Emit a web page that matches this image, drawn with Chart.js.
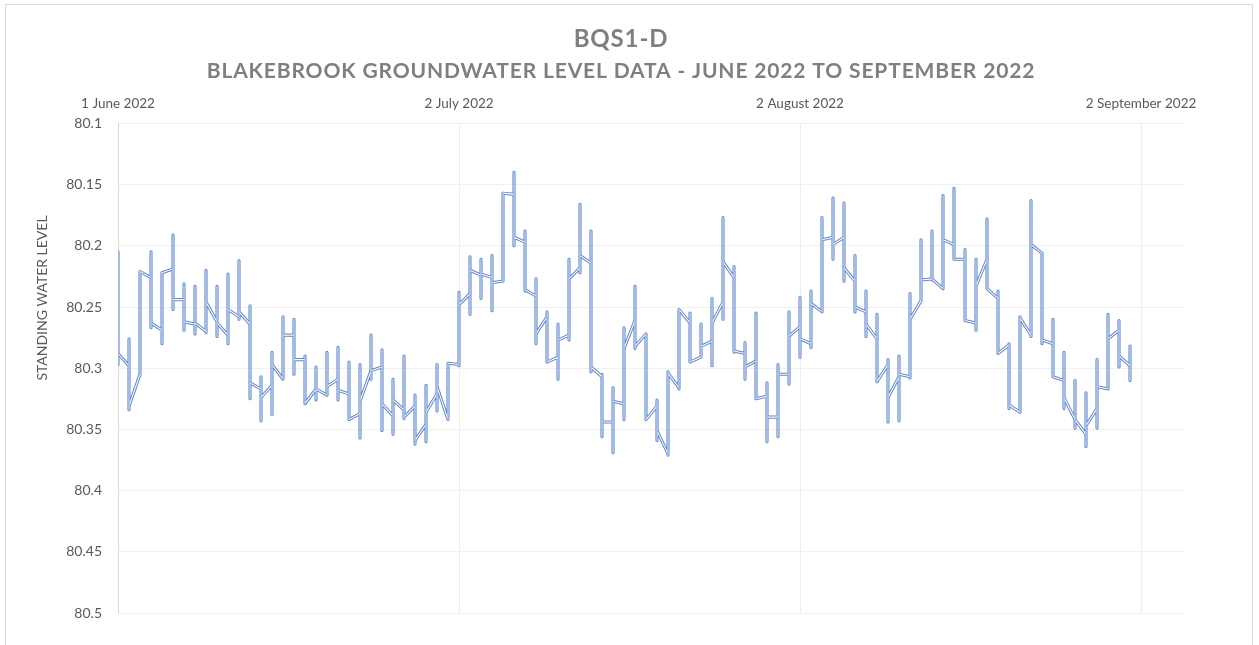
<!DOCTYPE html>
<html><head><meta charset="utf-8">
<script src="https://cdn.jsdelivr.net/npm/chart.js@4.4.0/dist/chart.umd.min.js"></script>
<style>
html,body{margin:0;padding:0;background:#fff;}
#wrap{position:relative;width:1259px;height:645px;overflow:hidden;}
#frame{position:absolute;left:5px;top:4px;width:1246px;height:660px;border:1px solid #d9d9d9;pointer-events:none;}
</style></head><body>
<div id="wrap"><canvas id="c" width="1259" height="645"></canvas><div id="frame"></div></div>
<script>
// x ticks (days after 1 June 2022)
const tickDays = [0, 31, 62, 93];
const tickLabels = ['1 June 2022', '2 July 2022', '2 August 2022', '2 September 2022'];
const yAxisTitle = 'STANDING WATER LEVEL';

// one entry per day, 1 June 2022 .. 1 September 2022
const openLevel = [80.205,80.298,80.305,80.226,80.269,80.219,80.244,80.264,80.270,80.262,
80.273,80.258,80.264,80.317,80.314,80.309,80.273,80.293,80.317,80.322,
80.309,80.321,80.337,80.302,80.299,80.339,80.334,80.331,80.346,80.321,
80.342,80.297,80.239,80.224,80.226,80.229,80.158,80.197,80.241,80.258,
80.291,80.273,80.218,80.214,80.307,80.344,80.329,80.261,80.272,80.331,
80.370,80.316,80.263,80.291,80.278,80.246,80.226,80.288,80.294,80.323,
80.340,80.305,80.266,80.280,80.254,80.193,80.193,80.229,80.254,80.276,
80.297,80.307,80.307,80.245,80.227,80.235,80.199,80.211,80.263,80.211,
80.243,80.281,80.336,80.273,80.206,80.280,80.310,80.342,80.354,80.333,
80.317,80.269,80.298];
const minLevel = [80.205,80.276,80.221,80.205,80.222,80.191,80.231,80.233,80.220,80.233,
80.223,80.212,80.249,80.307,80.287,80.258,80.260,80.290,80.299,80.287,
80.283,80.295,80.297,80.273,80.285,80.309,80.290,80.322,80.314,80.297,
80.296,80.238,80.209,80.211,80.208,80.157,80.140,80.188,80.227,80.254,
80.264,80.211,80.166,80.188,80.305,80.316,80.267,80.233,80.272,80.326,
80.303,80.252,80.255,80.264,80.243,80.177,80.217,80.279,80.255,80.312,
80.297,80.254,80.242,80.237,80.177,80.161,80.165,80.208,80.237,80.256,
80.293,80.290,80.239,80.195,80.188,80.159,80.153,80.203,80.211,80.178,
80.237,80.280,80.258,80.163,80.206,80.260,80.287,80.310,80.320,80.293,
80.256,80.261,80.282];
const maxLevel = [80.297,80.334,80.306,80.267,80.280,80.252,80.269,80.272,80.271,80.274,
80.280,80.260,80.325,80.343,80.338,80.309,80.305,80.329,80.326,80.322,
80.326,80.342,80.357,80.309,80.351,80.354,80.341,80.362,80.360,80.335,
80.342,80.298,80.256,80.243,80.253,80.229,80.200,80.237,80.280,80.295,
80.309,80.277,80.222,80.303,80.356,80.369,80.342,80.284,80.342,80.359,
80.371,80.317,80.295,80.291,80.298,80.260,80.287,80.309,80.325,80.360,
80.356,80.313,80.291,80.283,80.254,80.211,80.229,80.254,80.274,80.311,
80.344,80.343,80.308,80.245,80.228,80.235,80.211,80.261,80.269,80.235,
80.288,80.333,80.336,80.274,80.280,80.307,80.333,80.349,80.364,80.349,
80.317,80.299,80.310];
const closeLevel = [80.288,80.331,80.221,80.263,80.222,80.244,80.262,80.263,80.246,80.263,
80.252,80.254,80.312,80.324,80.297,80.273,80.293,80.329,80.317,80.315,
80.318,80.342,80.327,80.302,80.329,80.326,80.340,80.359,80.336,80.315,
80.296,80.248,80.220,80.223,80.230,80.157,80.193,80.236,80.272,80.295,
80.277,80.227,80.208,80.299,80.344,80.327,80.284,80.282,80.342,80.351,
80.304,80.252,80.295,80.282,80.263,80.213,80.286,80.299,80.325,80.340,
80.305,80.274,80.276,80.247,80.195,80.199,80.218,80.250,80.264,80.311,
80.324,80.305,80.260,80.228,80.227,80.195,80.211,80.261,80.233,80.235,
80.288,80.330,80.259,80.199,80.277,80.307,80.324,80.342,80.347,80.315,
80.276,80.290,80.298];

const pathPts = [];
const rangePts = [];
for (let i = 0; i < openLevel.length; i++) {
  pathPts.push({x:i, y:openLevel[i]}, {x:i, y:minLevel[i]}, {x:i, y:maxLevel[i]}, {x:i, y:closeLevel[i]});
  rangePts.push({x:i, y:minLevel[i]}, {x:i, y:maxLevel[i]}, {x:i, y:null});
}

const FONT = 'Lato, "Open Sans", sans-serif';

const spacingPlugin = {
  id: 'spacing',
  beforeDraw(chart) { chart.ctx.letterSpacing = '0.85px'; },
  beforeDatasetsDraw(chart) { chart.ctx.letterSpacing = '0px'; },
  afterDraw(chart) {
    const ctx = chart.ctx;
    ctx.save();
    ctx.letterSpacing = '0px';
    ctx.translate(42, 298);
    ctx.rotate(-Math.PI / 2);
    ctx.font = '14px ' + FONT;
    ctx.fillStyle = '#595959';
    ctx.textAlign = 'center';
    ctx.textBaseline = 'middle';
    ctx.fillText(yAxisTitle, 0, 0);
    ctx.restore();
  }
};

new Chart(document.getElementById('c'), {
  type: 'line',
  data: { datasets: [
    { data: rangePts, borderColor: '#9CB4E2', borderWidth: 1.4, pointRadius: 0, spanGaps: false, order: 0, borderCapStyle: 'butt' },
    { data: pathPts, borderColor: '#ffffff', borderWidth: 1.1, pointRadius: 0, order: 1, borderJoinStyle: 'round' },
    { data: pathPts, borderColor: 'rgba(68,114,196,0.85)', borderWidth: 3.1, pointRadius: 0, order: 2, borderJoinStyle: 'round' }
  ]},
  plugins: [spacingPlugin],
  options: {
    responsive: false, animation: false, devicePixelRatio: 1,
    events: [],
    layout: { padding: { left: 0, right: 17, top: 0, bottom: 32 } },
    plugins: {
      legend: { display: false }, tooltip: { enabled: false },
      title: { display: true, text: 'BQS1-D', color: '#7f7f7f',
        font: { family: FONT, size: 24, weight: 'bold' }, padding: { top: 25, bottom: 4 } },
      subtitle: { display: true, text: 'BLAKEBROOK GROUNDWATER LEVEL DATA - JUNE 2022 TO SEPTEMBER 2022', color: '#7f7f7f',
        font: { family: FONT, size: 21, weight: 'bold' }, padding: { top: 1, bottom: 6 } }
    },
    scales: {
      x: {
        type: 'linear', position: 'top', min: 0, max: 97,
        afterFit: s => { s.height = 123 - 89.6; },
        afterBuildTicks: s => { s.ticks = tickDays.map(v => ({ value: v })); },
        ticks: { z: 1, color: '#595959', font: { family: FONT, size: 13.5 }, padding: 12, maxRotation: 0, autoSkip: false,
          callback: (v) => tickLabels[tickDays.indexOf(v)] },
        grid: { color: '#ececec', drawTicks: false },
        border: { display: false }
      },
      y: {
        reverse: true, min: 80.1, max: 80.5,
        afterFit: s => { s.width = 118; },
        ticks: { z: 1, stepSize: 0.05, color: '#595959', font: { family: FONT, size: 14 }, padding: 16,
          callback: v => String(parseFloat(v.toFixed(2))) },
        grid: { color: '#f0f0f0', drawTicks: false },
        border: { display: true, color: '#d9d9d9' }
      },
      yRight: {
        position: 'right', display: true, min: 0, max: 1,
        afterFit: s => { s.width = 57; },
        ticks: { display: false }, grid: { display: false, drawTicks: false }, border: { display: false }
      }
    }
  }
});
</script>
</body></html>
